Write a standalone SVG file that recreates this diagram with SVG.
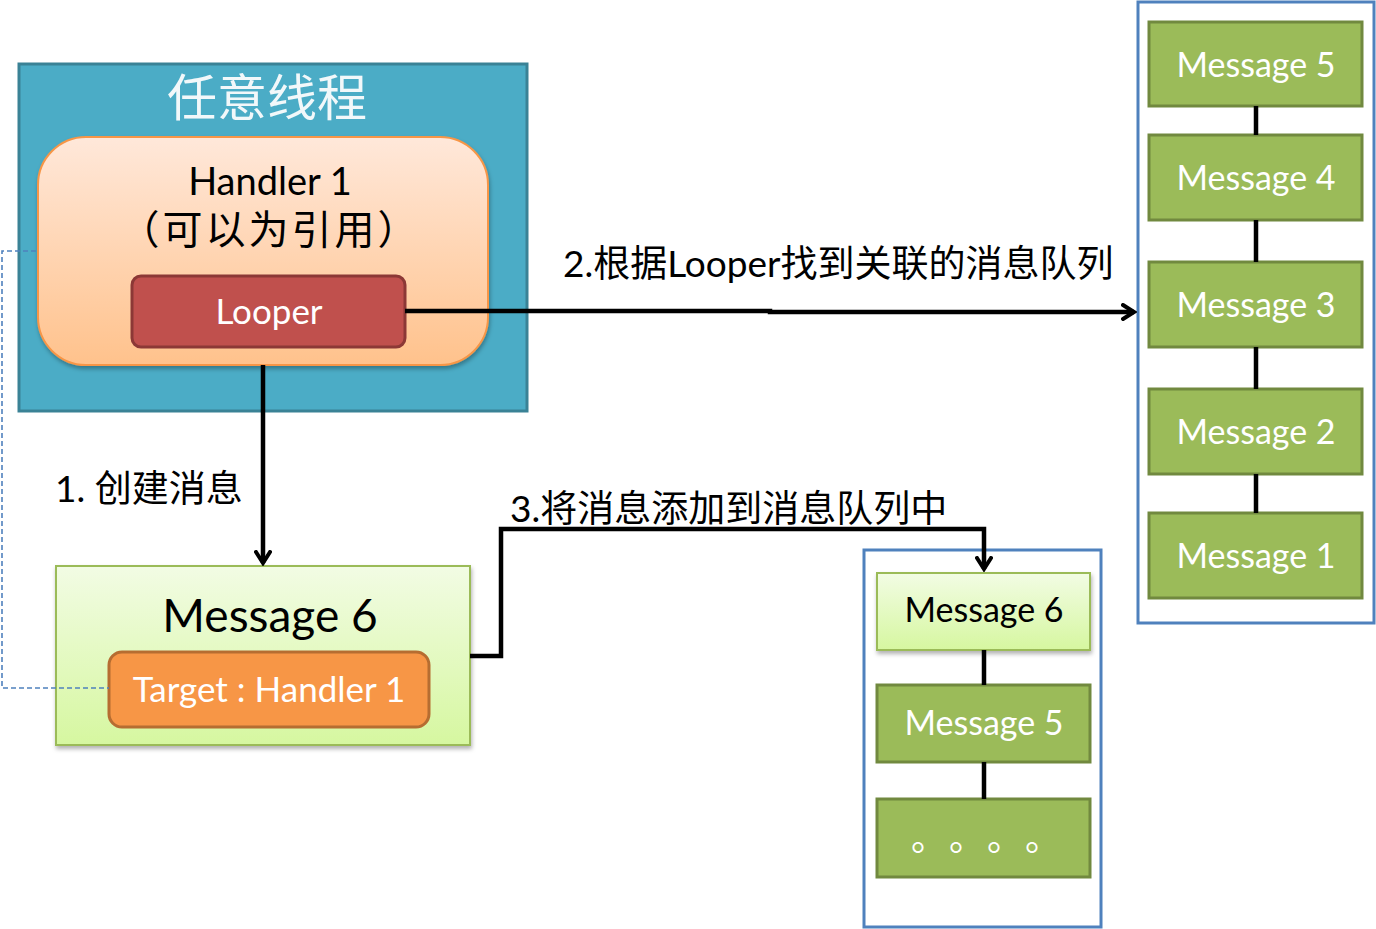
<svg xmlns="http://www.w3.org/2000/svg" width="1376" height="929" viewBox="0 0 1376 929">
<defs>
<linearGradient id="gHandler" x1="0" y1="0" x2="0" y2="1">
<stop offset="0" stop-color="#FFE8DA"/>
<stop offset="1" stop-color="#FFC28C"/>
</linearGradient>
<linearGradient id="gMsg" x1="0" y1="0" x2="0" y2="1">
<stop offset="0" stop-color="#F2FCE4"/>
<stop offset="1" stop-color="#D6F7A0"/>
</linearGradient>
<filter id="sh" x="-10%" y="-10%" width="130%" height="130%">
<feDropShadow dx="1" dy="3" stdDeviation="2" flood-color="#000" flood-opacity="0.3"/>
</filter>
<marker id="arr" viewBox="0 0 16 18" refX="13" refY="9" markerWidth="16" markerHeight="18" markerUnits="userSpaceOnUse" orient="auto">
<path d="M2,2 L13,9 L2,16" fill="none" stroke="#000" stroke-width="4" stroke-linejoin="miter" stroke-linecap="round"/>
</marker>
</defs>
<style>
.lat{font-family:Lato,"Noto Sans CJK SC",sans-serif}
.cjk{font-family:Lato,"Noto Sans CJK SC",sans-serif}
.wt{fill:#fff}
.bk{fill:#000}
.dk{fill:#9BBB59;stroke:#71893F;stroke-width:3}
.lt{fill:url(#gMsg);stroke:#9BBB59;stroke-width:2}
.q{fill:#fff;stroke:#4F81BD;stroke-width:3}
.conn{fill:none;stroke:#000;stroke-width:4.5}
</style>

<g id="thread">
<rect x="19" y="64" width="508" height="347" fill="#4BACC6" stroke="#3A8296" stroke-width="3"/>
<text x="267" y="116" text-anchor="middle" class="cjk" font-size="50" fill="#F2F8FA">任意线程</text>
</g>

<g id="handler">
<rect x="38" y="137" width="450" height="228" rx="48" fill="url(#gHandler)" stroke="#F79646" stroke-width="2" filter="url(#sh)"/>
<text x="270" y="195" text-anchor="middle" class="lat bk" font-size="38">Handler 1</text>
<text x="270" y="244" text-anchor="middle" class="cjk bk" font-size="40" letter-spacing="3">（可以为引用）</text>
</g>

<g id="looper">
<rect x="132" y="276" width="273" height="71" rx="9" fill="#C0504D" stroke="#8C3836" stroke-width="3"/>
<text x="269" y="324" text-anchor="middle" class="lat wt" font-size="35">Looper</text>
</g>

<g id="message6">
<rect x="56" y="566" width="414" height="179" class="lt" filter="url(#sh)"/>
<text x="270" y="632" text-anchor="middle" class="lat bk" font-size="46">Message 6</text>
</g>

<g id="target">
<rect x="109" y="652" width="320" height="75" rx="13" fill="#F79646" stroke="#B66D31" stroke-width="3"/>
<text x="269" y="702" text-anchor="middle" class="lat wt" font-size="35">Target : Handler 1</text>
</g>

<g id="queue-mid">
<rect x="864" y="550" width="237" height="377" class="q"/>
</g>
<g id="mid-msg6">
<rect x="877" y="573" width="213" height="77" class="lt" filter="url(#sh)"/>
<text x="984" y="622" text-anchor="middle" class="lat bk" font-size="34">Message 6</text>
</g>
<g id="mid-msg5">
<rect x="877" y="685" width="213" height="77" class="dk"/>
<text x="984" y="735" text-anchor="middle" class="lat wt" font-size="34">Message 5</text>
</g>
<g id="mid-dots">
<rect x="877" y="799" width="213" height="78" class="dk"/>
<text x="911 949 987 1025" y="851" class="cjk wt" font-size="36">。。。。</text>
</g>

<g id="queue-right">
<rect x="1138" y="2" width="236" height="621" class="q"/>
</g>
<g id="r-msg5">
<rect x="1149" y="22" width="213" height="84" class="dk"/>
<text x="1256" y="77" text-anchor="middle" class="lat wt" font-size="34">Message 5</text>
</g>
<g id="r-msg4">
<rect x="1149" y="135" width="213" height="85" class="dk"/>
<text x="1256" y="190" text-anchor="middle" class="lat wt" font-size="34">Message 4</text>
</g>
<g id="r-msg3">
<rect x="1149" y="262" width="213" height="85" class="dk"/>
<text x="1256" y="317" text-anchor="middle" class="lat wt" font-size="34">Message 3</text>
</g>
<g id="r-msg2">
<rect x="1149" y="389" width="213" height="85" class="dk"/>
<text x="1256" y="444" text-anchor="middle" class="lat wt" font-size="34">Message 2</text>
</g>
<g id="r-msg1">
<rect x="1149" y="513" width="213" height="85" class="dk"/>
<text x="1256" y="568" text-anchor="middle" class="lat wt" font-size="34">Message 1</text>
</g>

<g id="connectors">
<path class="conn" d="M263,365 V563" marker-end="url(#arr)"/>
<path class="conn" d="M405,311 H770 V312 H1134" marker-end="url(#arr)"/>
<path class="conn" d="M470,656 H501 V529 H984 V569" marker-end="url(#arr)"/>
<path d="M36,251 H2 V688 H109" fill="none" stroke="#4F81BD" stroke-width="1.6" stroke-dasharray="5,3"/>
<path class="conn" d="M984,650 V685 M984,762 V799"/>
<path class="conn" d="M1256,106 V135 M1256,220 V262 M1256,347 V389 M1256,474 V513"/>
<text x="55" y="502" class="cjk bk" font-size="37">1. 创建消息</text>
<text x="563" y="277" class="cjk bk" font-size="37">2.根据Looper找到关联的消息队列</text>
<text x="510" y="522" class="cjk bk" font-size="37">3.将消息添加到消息队列中</text>
</g>
</svg>
